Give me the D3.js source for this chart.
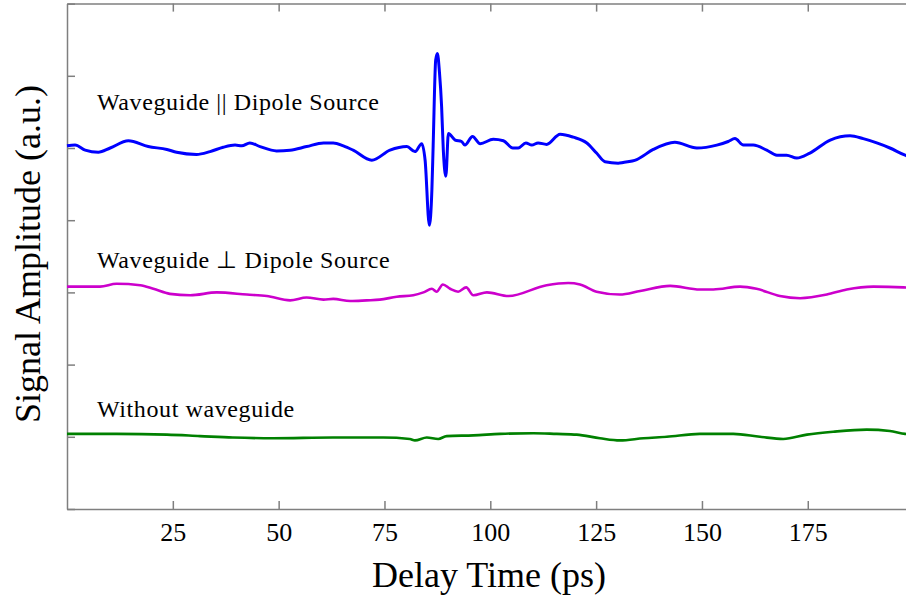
<!DOCTYPE html>
<html>
<head>
<meta charset="utf-8">
<script src="https://cdn.jsdelivr.net/npm/d3@7"></script>
<style>
  body { margin: 0; background: #fff; }
  svg { display: block; }
</style>
</head>
<body>
<svg id="chart" width="906" height="598"></svg>
<script>
// delay time ticks (ps)
var xTicks = [25, 50, 75, 100, 125, 150, 175];
var yTicks = [0, 1, 2, 3, 4, 5, 6, 7];

// waveguide parallel to dipole source
var parTime = [0, 1.9, 4.3, 7.4, 10.2, 14.5, 19.2, 23.6, 25.9, 30.6, 33.8, 36.9, 39.7, 41.3, 43.2, 45.6,
  49.5, 52.7, 56.6, 60.6, 62.9, 65.3, 67.6, 72.0, 76.3, 80.3, 82.2, 83.8, 84.6, 85.6, 86.2, 86.5,
  87.1, 87.5, 88.0, 88.5, 88.9, 89.5, 90.1, 91.7, 93.2, 94.0, 95.8, 97.6, 100.7, 103.1, 105.3,
  106.6, 108.4, 109.8, 111.3, 113.3, 116.5, 119.6, 122.8, 125.1, 127.1, 130.2, 131.4, 134.6,
  138.5, 143.6, 148.8, 153.5, 156.2, 157.8, 159.8, 162.1, 165.3, 167.7, 170.0, 172.4, 175.5,
  180.3, 185.0, 188.1, 191.3, 194.4, 198.0, 200];
var parValues = [5.03, 5.04, 4.97, 4.94, 5.00, 5.10, 5.02, 4.98, 4.94, 4.91, 4.95, 5.01, 5.04, 5.03, 5.07, 5.02,
  4.96, 4.97, 5.02, 5.07, 5.07, 5.03, 4.97, 4.83, 4.97, 5.02, 4.95, 5.06, 4.83, 3.93, 4.42, 5.03,
  6.22, 6.31, 6.04, 5.57, 4.97, 4.61, 5.20, 5.11, 5.09, 5.04, 5.16, 5.06, 5.12, 5.10, 5.00,
  5.00, 5.07, 5.04, 5.07, 5.05, 5.19, 5.15, 5.07, 4.93, 4.81, 4.79, 4.80, 4.84,
  4.98, 5.08, 5.00, 5.04, 5.09, 5.13, 5.04, 5.04, 4.97, 4.90, 4.90, 4.86, 4.93,
  5.11, 5.17, 5.13, 5.07, 5.00, 4.90, 4.86];

// waveguide perpendicular to dipole source
var perpTime = [0, 7.8, 11.7, 17.3, 20.4, 24.3, 29.1, 35.4, 42.5, 47.2, 52.7, 56.6, 60.6, 62.9, 66.9, 70.8,
  73.9, 77.9, 81.8, 84.2, 86.2, 87.3, 88.8, 90.5, 92.4, 94.3, 96.0, 99.2, 104.3, 113.3, 118.4,
  121.2, 125.1, 130.6, 135.4, 142.5, 149.5, 152.7, 159.0, 162.9, 168.4, 173.2, 179.5, 184.2,
  190.5, 197.6, 200];
var perpValues = [3.08, 3.08, 3.12, 3.10, 3.05, 2.98, 2.96, 3.00, 2.97, 2.95, 2.89, 2.93, 2.90, 2.91, 2.88, 2.89,
  2.90, 2.94, 2.96, 3.00, 3.05, 3.01, 3.11, 3.05, 3.01, 3.07, 2.96, 3.00, 2.95, 3.10, 3.13,
  3.11, 3.01, 2.97, 3.02, 3.09, 3.04, 3.04, 3.08, 3.05, 2.95, 2.92, 2.97, 3.04,
  3.08, 3.07, 3.06];

// without waveguide
var noneTime = [0, 11.7, 23.6, 31.4, 39.2, 48.7, 62.8, 74.7, 81.0, 82.2, 85.0, 87.7, 89.7, 96.0, 102.3,
  110.2, 115.7, 120.4, 125.9, 130.6, 136.2, 141.7, 149.5, 157.4, 163.7, 169.2, 174.8, 181.0,
  188.9, 194.4, 198.0, 200];
var noneValues = [1.04, 1.04, 1.03, 1.01, 0.99, 0.98, 0.99, 0.99, 0.97, 0.95, 0.99, 0.97, 1.01, 1.02, 1.04,
  1.05, 1.04, 1.03, 0.98, 0.95, 0.98, 1.00, 1.04, 1.04, 1.00, 0.97, 1.03, 1.07,
  1.10, 1.08, 1.04, 1.03];

var series = [
  { name: "par", time: parTime, values: parValues, color: "#0000ff", width: 3 },
  { name: "perp", time: perpTime, values: perpValues, color: "#cc00cc", width: 2.6 },
  { name: "none", time: noneTime, values: noneValues, color: "#008000", width: 2.6 }
];

var labels = [
  { text: "Waveguide || Dipole Source", value: 5.53 },
  { text: "Waveguide \u22A5 Dipole Source", value: 3.34 },
  { text: "Without waveguide", value: 1.28 }
];

var svg = d3.select("#chart");

var plotLeft = 67, plotTop = 3.6, plotBottom = 509;
var x = d3.scaleLinear().domain([0, 200]).range([plotLeft, plotLeft + 200 * 4.233]);
var y = d3.scaleLinear().domain([0, 7]).range([plotBottom, plotTop]);

var axisColor = "#7f7f7f";
var serif = "'Liberation Serif', 'Times New Roman', serif";

// bottom axis
var xAxis = svg.append("g")
  .attr("transform", "translate(0," + plotBottom + ")")
  .call(d3.axisBottom(x).tickValues(xTicks).tickSizeInner(-8).tickSizeOuter(0).tickPadding(14));

// top axis, ticks only
var xTop = svg.append("g")
  .attr("transform", "translate(0," + y(7) + ")")
  .call(d3.axisTop(x).tickValues(xTicks).tickSizeInner(-8).tickSizeOuter(0).tickFormat(""));

// left axis, no labels
var yAxis = svg.append("g")
  .attr("transform", "translate(" + plotLeft + ",0)")
  .call(d3.axisLeft(y).tickValues(yTicks).tickSizeInner(-8).tickSizeOuter(0).tickFormat(""));

[xAxis, xTop, yAxis].forEach(function(g) {
  g.select(".domain").attr("stroke", axisColor).attr("stroke-width", 1.5);
  g.selectAll(".tick line").attr("stroke", axisColor).attr("stroke-width", 1.5);
});

xAxis.selectAll(".tick text")
  .attr("fill", "#000")
  .style("font-family", serif)
  .style("font-size", "26px");

// curves
var line = d3.line()
  .x(function(d) { return x(d[0]); })
  .y(function(d) { return y(d[1]); })
  .curve(d3.curveMonotoneX);

svg.append("g").selectAll("path")
  .data(series)
  .enter()
  .append("path")
  .attr("d", function(s) {
    return line(s.time.map(function(t, i) { return [t, s.values[i]]; }));
  })
  .attr("fill", "none")
  .attr("stroke", function(s) { return s.color; })
  .attr("stroke-width", function(s) { return s.width; })
  .attr("stroke-linejoin", "round");

// curve labels
svg.append("g").selectAll("text")
  .data(labels)
  .enter()
  .append("text")
  .attr("x", 97)
  .attr("y", function(d) { return y(d.value); })
  .style("font-family", serif)
  .style("font-size", "24px")
  .style("letter-spacing", "0.6px")
  .attr("fill", "#000")
  .text(function(d) { return d.text; });

// axis titles
svg.append("text")
  .attr("x", 489)
  .attr("y", 587)
  .attr("text-anchor", "middle")
  .style("font-family", serif)
  .style("font-size", "36px")
  .text("Delay Time (ps)");

svg.append("text")
  .attr("transform", "translate(40,254) rotate(-90)")
  .attr("text-anchor", "middle")
  .style("font-family", serif)
  .style("font-size", "36px")
  .text("Signal Amplitude (a.u.)");
</script>
</body>
</html>
